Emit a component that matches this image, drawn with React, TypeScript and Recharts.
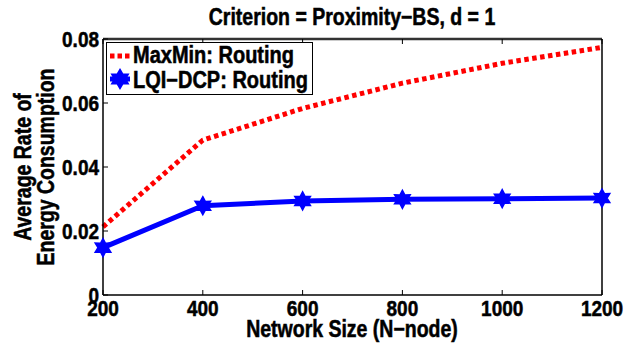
import React from 'react';
import { LineChart, Line, XAxis, YAxis, Legend } from 'recharts';

const networkSizes = [200, 400, 600, 800, 1000, 1200];
const maxMinRouting = [0.0213, 0.0484, 0.0583, 0.0662, 0.0724, 0.0774];
const lqiDcpRouting = [0.0148, 0.0279, 0.0294, 0.0299, 0.0301, 0.0303];
const xTicks = [200, 400, 600, 800, 1000, 1200];
const yTicks = [0, 0.02, 0.04, 0.06, 0.08];

const data = networkSizes.map((n, i) => ({
  n,
  maxmin: maxMinRouting[i],
  lqi: lqiDcpRouting[i],
}));

const FONT = '"Liberation Sans", Arial, Helvetica, sans-serif';
const BLUE = '#0000ff';
const RED = '#ff0000';

const starPath = (cx: number, cy: number, ro: number, ri: number) => {
  const pts: string[] = [];
  for (let k = 0; k < 12; k++) {
    const r = k % 2 === 0 ? ro : ri;
    const a = -Math.PI / 2 + (k * Math.PI) / 6;
    pts.push(`${(cx + r * Math.cos(a)).toFixed(2)},${(cy + r * Math.sin(a)).toFixed(2)}`);
  }
  return 'M' + pts.join('L') + 'Z';
};

const StarDot = (props: any) => {
  const { cx, cy } = props;
  if (cx == null || cy == null) return null;
  return <path d={starPath(cx, cy, 9, 5)} fill={BLUE} stroke={BLUE} strokeWidth={1.5} />;
};

const T = (p: any) => {
  const { x, y, rot, ...rest } = p;
  return (
    <text
      fontFamily={FONT}
      fontWeight="bold"
      fill="#000"
      stroke="#000"
      strokeWidth={0.45}
      {...rest}
      transform={`translate(${x},${y})${rot ? ` rotate(${rot})` : ''} scale(1,1.18)`}
      x={0}
      y={0}
    />
  );
};

const renderLegend = () => (
  <svg width={207} height={53} style={{ display: 'block' }}>
    <rect x={0.5} y={0.5} width={206} height={52} fill="#fff" stroke="#000" strokeWidth={1} />
    <line x1={4} y1={14} x2={25} y2={14} stroke={RED} strokeWidth={5} strokeDasharray="4.5 3" />
    <T x={27} y={21} fontSize={20}>MaxMin: Routing</T>
    <line x1={4} y1={37} x2={24} y2={37} stroke={BLUE} strokeWidth={5} />
    <path d={starPath(14, 37, 9.5, 5.5)} fill={BLUE} stroke={BLUE} strokeWidth={1.5} />
    <T x={27} y={46} fontSize={20}>LQI−DCP: Routing</T>
  </svg>
);

const XTick = (props: any) => {
  const { x, y, payload } = props;
  return (
    <T x={x} y={y + 21} textAnchor="middle" fontSize={19}>
      {String(payload.value)}
    </T>
  );
};

const YTick = (props: any) => {
  const { x, y, payload } = props;
  return (
    <T x={x} y={y + 8} textAnchor="end" fontSize={19}>
      {String(payload.value)}
    </T>
  );
};

export default function App() {
  return (
    <div style={{ position: 'absolute', left: 0, top: 0, width: 634, height: 344, background: '#fff' }}>
      <LineChart
        width={634}
        height={344}
        data={data}
        margin={{ top: 38, right: 31, bottom: 48, left: 102 }}
      >
        <XAxis
          xAxisId="bottom"
          dataKey="n"
          type="number"
          domain={[200, 1200]}
          ticks={xTicks}
          height={1}
          orientation="bottom"
          axisLine={{ stroke: '#000', strokeWidth: 1.5 }}
          tickLine={{ stroke: '#000', strokeWidth: 1 }}
          tickSize={-5}
          tickMargin={5}
          tick={<XTick />}
          interval={0}
        />
        <XAxis
          xAxisId="top"
          dataKey="n"
          type="number"
          domain={[200, 1200]}
          ticks={xTicks}
          height={1}
          orientation="top"
          axisLine={{ stroke: '#333', strokeWidth: 2.5 }}
          tickLine={{ stroke: '#000', strokeWidth: 1 }}
          tickSize={-5}
          tickFormatter={() => ''}
          interval={0}
        />
        <YAxis
          yAxisId="left"
          type="number"
          domain={[0, 0.08]}
          ticks={yTicks}
          width={1}
          orientation="left"
          axisLine={{ stroke: '#000', strokeWidth: 1.5 }}
          tickLine={{ stroke: '#000', strokeWidth: 1 }}
          tickSize={-5}
          tickMargin={9}
          tick={<YTick />}
          interval={0}
        />
        <YAxis
          yAxisId="right"
          type="number"
          domain={[0, 0.08]}
          ticks={yTicks}
          width={1}
          orientation="right"
          axisLine={{ stroke: '#000', strokeWidth: 1.5 }}
          tickLine={{ stroke: '#000', strokeWidth: 1 }}
          tickSize={-5}
          tickFormatter={() => ''}
          interval={0}
        />
        <Line
          xAxisId="bottom"
          yAxisId="left"
          dataKey="maxmin"
          name="MaxMin: Routing"
          stroke={RED}
          strokeWidth={5}
          strokeDasharray="4.5 3.5"
          dot={false}
          activeDot={false}
          type="linear"
          isAnimationActive={false}
        />
        <Line
          xAxisId="bottom"
          yAxisId="left"
          dataKey="lqi"
          name="LQI−DCP: Routing"
          stroke={BLUE}
          strokeWidth={5}
          dot={<StarDot />}
          activeDot={false}
          type="linear"
          isAnimationActive={false}
        />
        <Legend
          layout="vertical"
          align="center"
          verticalAlign="middle"
          content={renderLegend}
          wrapperStyle={{ position: 'absolute', left: 106, top: 42, width: 207, height: 53 }}
        />
        <T x={352} y={25} textAnchor="middle" fontSize={19.5}>Criterion = Proximity−BS, d = 1</T>
        <T x={352} y={337} textAnchor="middle" fontSize={19.5}>Network Size (N−node)</T>
        <T x={31} y={167} rot={-90} textAnchor="middle" fontSize={19.5}>Average Rate of</T>
        <T x={54} y={167} rot={-90} textAnchor="middle" fontSize={19.5}>Energy Consumption</T>
      </LineChart>
    </div>
  );
}
